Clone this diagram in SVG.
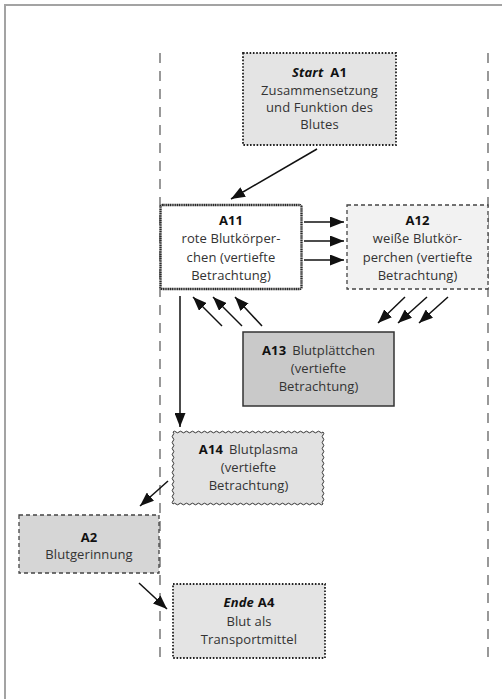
<svg xmlns="http://www.w3.org/2000/svg" width="502" height="699" viewBox="0 0 502 699">
  <style>
    text { font-family: "Open Sans", "Noto Sans", "DejaVu Sans", sans-serif; font-size: 13px; fill: #333; text-anchor: middle; letter-spacing: 0.1px; }
    .b { font-weight: bold; fill: #111; }
    .bi { font-weight: bold; font-style: italic; fill: #111; }
    .guide { stroke: #555; stroke-width: 1.2; stroke-dasharray: 10 8; fill: none; }
    .frame { stroke: #a3a3a3; stroke-width: 2; fill: none; }
    .dotted { stroke: #222; stroke-width: 1.8; stroke-dasharray: 1.6 1.7; }
    .dashed { stroke: #444; stroke-width: 1.3; stroke-dasharray: 4 3; }
    .conn { stroke: #111; stroke-width: 1.5; fill: none; marker-end: url(#head); }
  </style>
  <defs>
    <marker id="head" viewBox="0 0 14 11" refX="14" refY="5.5" markerWidth="14" markerHeight="11" markerUnits="userSpaceOnUse" orient="auto">
      <path d="M0,0 L14,5.5 L0,11 z" fill="#111"/>
    </marker>
  </defs>

  <!-- page frame (top and left edges) -->
  <path class="frame" d="M5,699 V5 H502"/>

  <!-- column guides -->
  <line class="guide" x1="160" y1="53" x2="160" y2="659"/>
  <line class="guide" x1="488" y1="53" x2="488" y2="659"/>

  <g id="A1">
    <rect x="243" y="53" width="153" height="92" fill="#e4e4e4" class="dotted"/>
    <text x="319.5" y="77"><tspan class="bi">Start</tspan><tspan class="b" dx="7">A1</tspan></text>
    <text x="319.5" y="95">Zusammensetzung</text>
    <text x="319.5" y="112">und Funktion des</text>
    <text x="319.5" y="129">Blutes</text>
  </g>

  <g id="A11">
    <rect x="160.5" y="205" width="141" height="84" rx="2" fill="#ffffff" stroke="#2a2a2a" stroke-width="2.4" stroke-dasharray="1.3 0.5"/>
    <text class="b" x="231" y="225">A11</text>
    <text x="231" y="243">rote Blutkörper-</text>
    <text x="231" y="262">chen (vertiefte</text>
    <text x="231" y="280">Betrachtung)</text>
  </g>

  <g id="A12">
    <rect x="347" y="205" width="141" height="84" fill="#f2f2f2" class="dashed"/>
    <text class="b" x="417.5" y="225">A12</text>
    <text x="417.5" y="243">weiße Blutkör-</text>
    <text x="417.5" y="262">perchen (vertiefte</text>
    <text x="417.5" y="280">Betrachtung)</text>
  </g>

  <g id="A13">
    <rect x="243" y="332" width="151" height="74" fill="#c9c9c9" stroke="#333" stroke-width="1.5"/>
    <text x="318.5" y="355"><tspan class="b">A13</tspan><tspan dx="6">Blutplättchen</tspan></text>
    <text x="318.5" y="373">(vertiefte</text>
    <text x="318.5" y="391">Betrachtung)</text>
  </g>

  <g id="A14">
    <path fill="#e2e2e2" stroke="#333" stroke-width="1"
      d="M173,432 q1.5,-1.6 3,0 t3,0 t3,0 t3,0 t3,0 t3,0 t3,0 t3,0 t3,0 t3,0 t3,0 t3,0 t3,0 t3,0 t3,0 t3,0 t3,0 t3,0 t3,0 t3,0 t3,0 t3,0 t3,0 t3,0 t3,0 t3,0 t3,0 t3,0 t3,0 t3,0 t3,0 t3,0 t3,0 t3,0 t3,0 t3,0 t3,0 t3,0 t3,0 t3,0 t3,0 t3,0 t3,0 t3,0 t3,0 t3,0 t3,0 t3,0 t3,0 t3,0
         q1.6,1.5 0,3 t0,3 t0,3 t0,3 t0,3 t0,3 t0,3 t0,3 t0,3 t0,3 t0,3 t0,3 t0,3 t0,3 t0,3 t0,3 t0,3 t0,3 t0,3 t0,3 t0,3 t0,3 t0,3 t0,3
         q-1.5,1.6 -3,0 t-3,0 t-3,0 t-3,0 t-3,0 t-3,0 t-3,0 t-3,0 t-3,0 t-3,0 t-3,0 t-3,0 t-3,0 t-3,0 t-3,0 t-3,0 t-3,0 t-3,0 t-3,0 t-3,0 t-3,0 t-3,0 t-3,0 t-3,0 t-3,0 t-3,0 t-3,0 t-3,0 t-3,0 t-3,0 t-3,0 t-3,0 t-3,0 t-3,0 t-3,0 t-3,0 t-3,0 t-3,0 t-3,0 t-3,0 t-3,0 t-3,0 t-3,0 t-3,0 t-3,0 t-3,0 t-3,0 t-3,0 t-3,0 t-3,0
         q-1.6,-1.5 0,-3 t0,-3 t0,-3 t0,-3 t0,-3 t0,-3 t0,-3 t0,-3 t0,-3 t0,-3 t0,-3 t0,-3 t0,-3 t0,-3 t0,-3 t0,-3 t0,-3 t0,-3 t0,-3 t0,-3 t0,-3 t0,-3 t0,-3 t0,-3 z"/>
    <text x="248.5" y="454"><tspan class="b">A14</tspan><tspan dx="6">Blutplasma</tspan></text>
    <text x="248.5" y="472">(vertiefte</text>
    <text x="248.5" y="490">Betrachtung)</text>
  </g>

  <g id="A2">
    <rect x="19" y="515" width="140" height="58" fill="#d6d6d6" class="dashed"/>
    <text class="b" x="89" y="542">A2</text>
    <text x="89" y="559">Blutgerinnung</text>
  </g>

  <g id="A4">
    <rect x="173" y="584" width="152" height="74" fill="#e4e4e4" class="dotted"/>
    <text x="249" y="607"><tspan class="bi">Ende</tspan><tspan class="b" dx="4">A4</tspan></text>
    <text x="249" y="626">Blut als</text>
    <text x="249" y="644">Transportmittel</text>
  </g>

  <g id="connectors">
    <line class="conn" x1="317" y1="149" x2="231" y2="199"/>
    <line class="conn" x1="304" y1="222" x2="344" y2="222"/>
    <line class="conn" x1="304" y1="241" x2="344" y2="241"/>
    <line class="conn" x1="304" y1="260" x2="344" y2="260"/>
    <line class="conn" x1="222" y1="326" x2="193" y2="297"/>
    <line class="conn" x1="242" y1="326" x2="213" y2="297"/>
    <line class="conn" x1="262" y1="326" x2="235" y2="297"/>
    <line class="conn" x1="405" y1="297" x2="378" y2="323"/>
    <line class="conn" x1="427" y1="297" x2="398" y2="323"/>
    <line class="conn" x1="448" y1="297" x2="419" y2="323"/>
    <line class="conn" x1="180" y1="296" x2="180" y2="427"/>
    <line class="conn" x1="168" y1="481" x2="140" y2="506"/>
    <line class="conn" x1="139" y1="583" x2="167" y2="609"/>
  </g>
</svg>
